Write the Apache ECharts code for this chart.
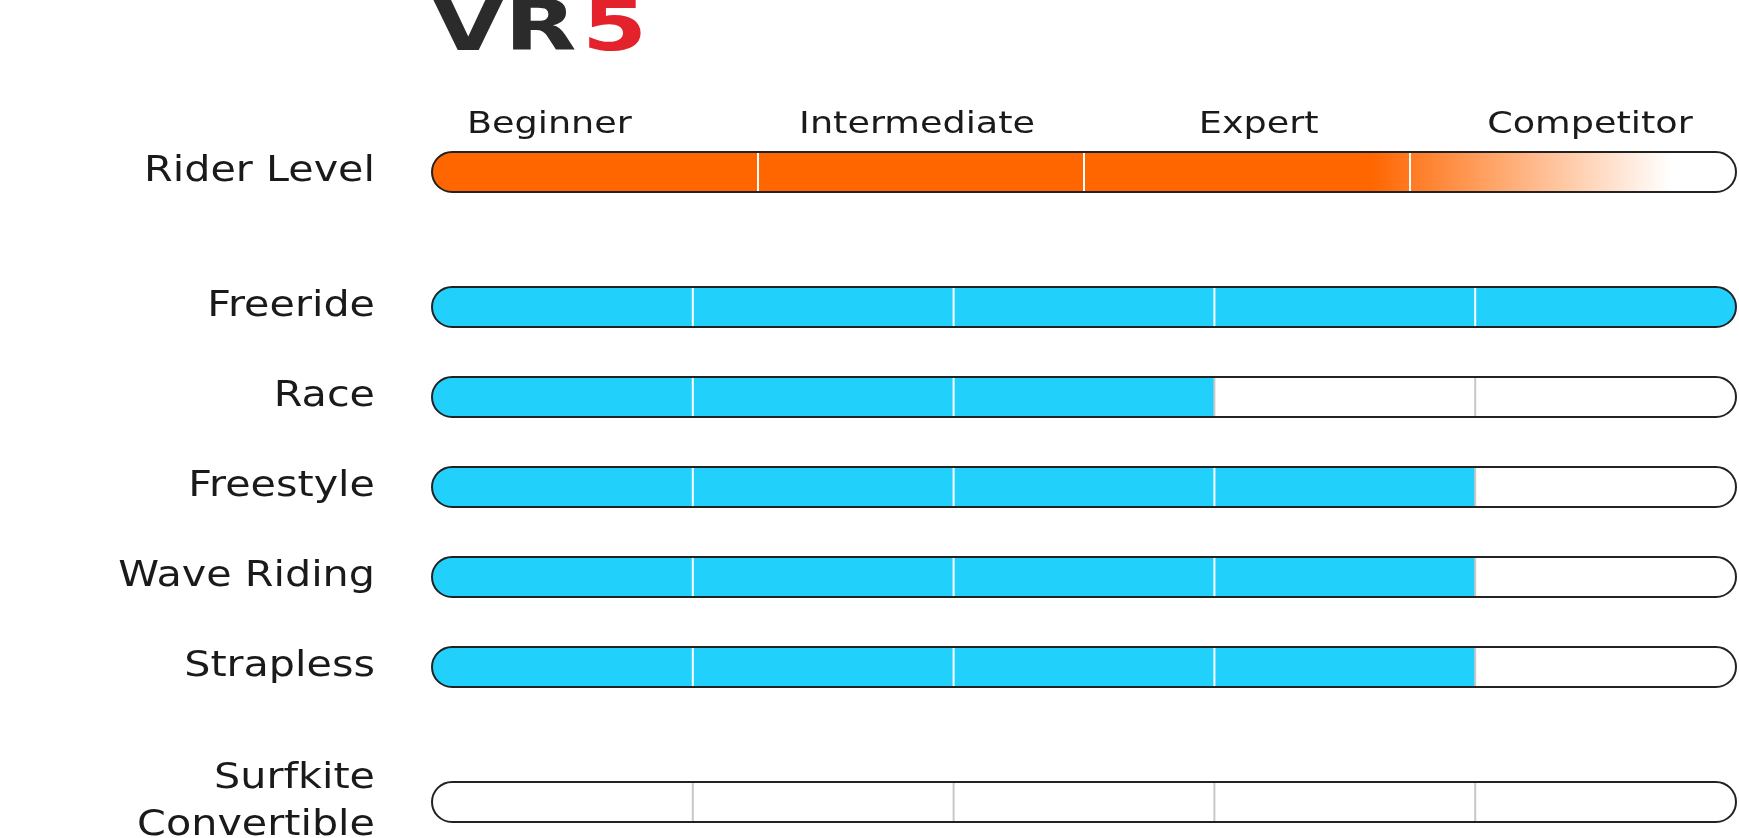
<!DOCTYPE html>
<html>
<head>
<meta charset="utf-8">
<title>VR5</title>
<script src="https://cdn.jsdelivr.net/npm/echarts@6/dist/echarts.min.js"></script>
<style>html,body{margin:0;padding:0;background:#fff}</style>
</head>
<body>
<div id="main" style="width:1739px;height:838px;"></div>
<script>
// rows: name, vertical slot, filled segments (out of 5)
var rowNames = ['Freeride', 'Race', 'Freestyle', 'Wave Riding', 'Strapless', 'Surfkite\nConvertible'];
var rowSlots = [1.5, 2.5, 3.5, 4.5, 5.5, 7];
var rowValues = [5, 3, 4, 4, 4, 0];
var segments = 5;

var levelNames = ['Beginner', 'Intermediate', 'Expert', 'Competitor'];
var levelLabelX = [0.45, 1.86, 3.17, 4.44];
var levelSlot = 0;

var myChart = echarts.init(document.getElementById('main'));
var FONT = 'DejaVu Sans';
var ORANGE = '#ff6600', CYAN = '#22d0fc';

function rowLabel(text, x, y) {
  return {type: 'text', x: x, y: y, scaleX: 1.18, originX: 0,
    style: {text: text, align: 'right', verticalAlign: 'middle', font: '35px ' + FONT,
      fill: '#1a1a1a', lineHeight: 47}};
}

function rowBar(params, api) {
  var slot = api.value(0), val = api.value(1), name = rowNames[params.dataIndex];
  var p0 = api.coord([0, slot]), p1 = api.coord([segments, slot]);
  var h = 40, r = h / 2, x0 = p0[0], x1 = p1[0], y = p0[1] - h / 2;
  var unit = (x1 - x0) / segments;
  var children = [];
  children.push({type: 'rect', shape: {x: x0, y: y, width: x1 - x0, height: h, r: r},
    style: {fill: '#fff', stroke: 'none'}});
  if (val > 0) {
    var fillW = api.coord([val, slot])[0] - x0;
    children.push({type: 'rect', shape: {x: x0, y: y, width: fillW, height: h,
      r: val >= segments ? r : [r, 0, 0, r]}, style: {fill: CYAN}});
  }
  for (var i = 1; i < segments; i++) {
    var xx = x0 + unit * i;
    children.push({type: 'line', shape: {x1: xx, y1: y + 1, x2: xx, y2: y + h - 1},
      style: {stroke: i < val ? '#ffffff' : '#c8c8c8', lineWidth: 2}});
  }
  children.push({type: 'rect', shape: {x: x0, y: y, width: x1 - x0, height: h, r: r},
    style: {fill: 'none', stroke: '#222', lineWidth: 2}});
  children.push(rowLabel(name, x0 - 57, p0[1]));
  return {type: 'group', children: children};
}

function levelBar(params, api) {
  var slot = api.value(0);
  var p0 = api.coord([0, slot]), p1 = api.coord([segments, slot]);
  var h = 40, r = h / 2, x0 = p0[0], x1 = p1[0], y = p0[1] - h / 2;
  var children = [];
  children.push({type: 'rect', shape: {x: x0, y: y, width: x1 - x0, height: h, r: r},
    style: {fill: new echarts.graphic.LinearGradient(0, 0, 1, 0, [
      {offset: 0, color: ORANGE}, {offset: 0.72, color: ORANGE},
      {offset: 0.95, color: '#ffffff'}, {offset: 1, color: '#ffffff'}])}});
  for (var i = 1; i < levelNames.length; i++) {
    var xx = x0 + (x1 - x0) * i / levelNames.length;
    children.push({type: 'line', shape: {x1: xx, y1: y + 1, x2: xx, y2: y + h - 1},
      style: {stroke: '#ffffff', lineWidth: 2}});
  }
  children.push({type: 'rect', shape: {x: x0, y: y, width: x1 - x0, height: h, r: r},
    style: {fill: 'none', stroke: '#222', lineWidth: 2}});
  levelNames.forEach(function (n, k) {
    var pt = api.coord([levelLabelX[k], slot]);
    children.push({type: 'text', x: pt[0], y: y - 12, scaleX: 1.18, originX: 0,
      style: {text: n, align: 'center', verticalAlign: 'bottom', font: '31px ' + FONT, fill: '#1a1a1a'}});
  });
  children.push(rowLabel('Rider Level', x0 - 57, p0[1]));
  return {type: 'group', children: children};
}

var option = {
  backgroundColor: '#fff',
  animation: false,
  graphic: [
    {type: 'text', left: 432, top: -5, scaleX: 1.3,
      style: {text: 'VR', font: 'bold 72px ' + FONT, fill: '#2b2b2b'}},
    {type: 'text', left: 582, top: -5, scaleX: 1.3,
      style: {text: '5', font: 'bold 72px ' + FONT, fill: '#e3222b'}}
  ],
  grid: {left: 432, right: 3, top: 82, bottom: 9},
  xAxis: {type: 'value', min: 0, max: segments, show: false},
  yAxis: {type: 'value', min: -1, max: 7.3, inverse: true, show: false},
  series: [
    {type: 'custom', renderItem: levelBar, data: [[levelSlot, levelNames.length]]},
    {type: 'custom', renderItem: rowBar,
      data: rowSlots.map(function (s, i) { return [s, rowValues[i]]; })}
  ]
};
myChart.setOption(option);
</script>
</body>
</html>
